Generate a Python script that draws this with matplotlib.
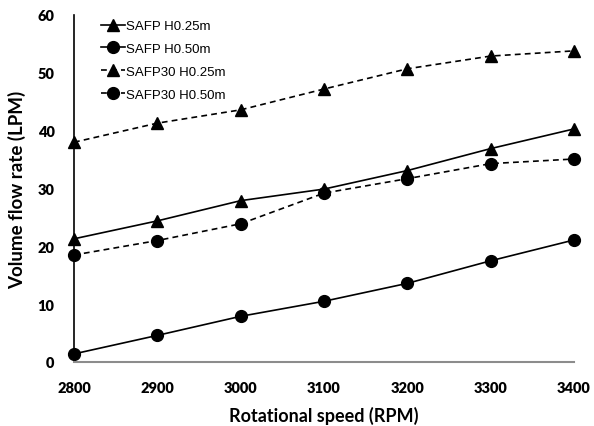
import numpy as np
import matplotlib.pyplot as plt

speed = [2800, 2900, 3000, 3100, 3200, 3300, 3400]
safp_025 = [21.3, 24.4, 27.9, 29.9, 33.1, 36.9, 40.3]
safp_050 = [1.4, 4.6, 7.9, 10.5, 13.6, 17.5, 21.1]
safp30_025 = [38.0, 41.3, 43.6, 47.2, 50.7, 52.9, 53.8]
safp30_050 = [18.5, 21.0, 23.9, 29.2, 31.7, 34.3, 35.1]

labels = ['SAFP H0.25m', 'SAFP H0.50m', 'SAFP30 H0.25m', 'SAFP30 H0.50m']

fig = plt.figure(figsize=(5.94, 4.27), dpi=100)
ax = fig.add_axes([74 / 594, 1 - 363 / 427, 500 / 594, 347 / 427])

dash = (0, (3.5, 2.5))
ax.plot(speed, safp_025, color='black', lw=1.2, marker='^', ms=8, label=labels[0])
ax.plot(speed, safp_050, color='black', lw=1.2, marker='o', ms=8.5, label=labels[1])
ax.plot(speed, safp30_025, color='black', lw=1.2, ls=dash, marker='^', ms=8, label=labels[2])
ax.plot(speed, safp30_050, color='black', lw=1.2, ls=dash, marker='o', ms=8.5, label=labels[3])

ax.set_xlim(2800, 3400)
ax.set_ylim(0, 60)
ax.set_xticks(speed)
ax.set_yticks(np.arange(0, 61, 10))
ax.tick_params(axis='x', length=0, pad=14, labelsize=10.5)
ax.tick_params(axis='y', length=0, pad=14, labelsize=10.5)
for lab in ax.get_xticklabels() + ax.get_yticklabels():
    lab.set_fontweight('heavy')
    lab.set_family('Lato')

for s in ['top', 'right']:
    ax.spines[s].set_visible(False)
ax.spines['left'].set_color('black')
ax.spines['left'].set_linewidth(1.2)
ax.spines['bottom'].set_color('#8c8c8c')
ax.spines['bottom'].set_linewidth(1.5)
ax.spines['left'].set_zorder(0)

ax.set_xlabel('Rotational speed (RPM)', fontsize=13, fontweight='bold', family='Lato', labelpad=8)
ax.set_ylabel('Volume flow rate (LPM)', fontsize=13.5, fontweight='bold', family='Lato', labelpad=8)

leg = ax.legend(loc='upper left', bbox_to_anchor=(0.03, 1.02), frameon=False,
                prop={'family': 'Liberation Sans', 'size': 9.5},
                handlelength=1.8, handletextpad=0.1, labelspacing=0.8)

for line in ax.lines:
    line.set_clip_on(False)

fig.savefig('out.png', dpi=100)
